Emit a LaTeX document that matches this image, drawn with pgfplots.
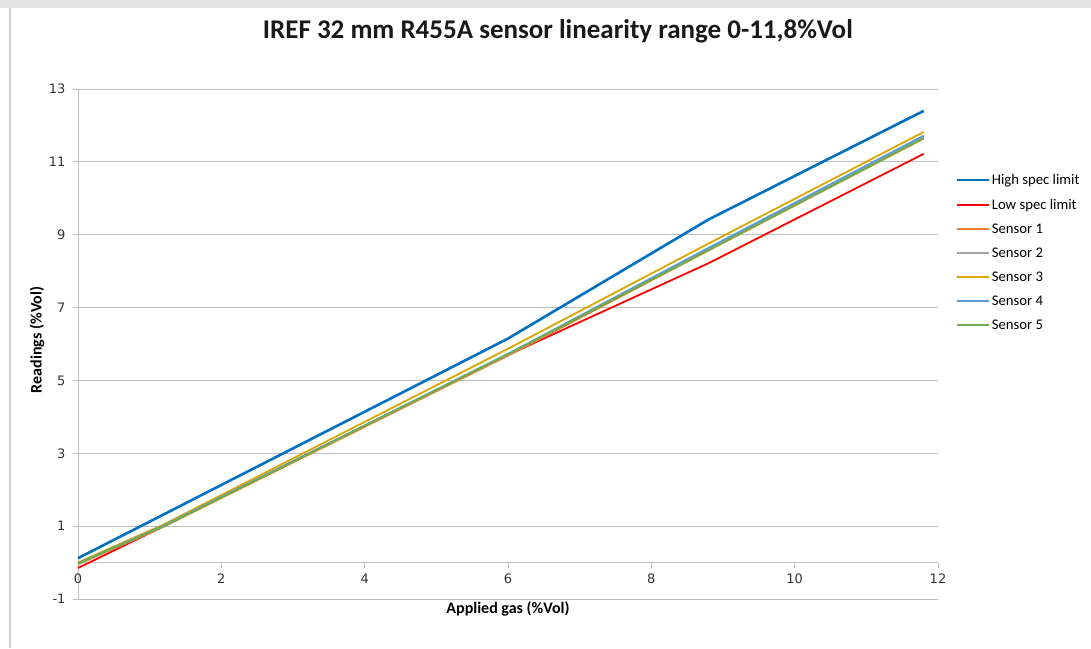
\documentclass[border=0pt]{standalone}
\usepackage{fontspec}
\setmainfont{Carlito}
\newfontfamily\tickfont{DejaVu Sans}
\usepackage{pgfplots}
\pgfplotsset{compat=1.18}
\definecolor{hi}{HTML}{0070C0}
\definecolor{lo}{HTML}{FF0000}
\definecolor{sone}{HTML}{ED7D31}
\definecolor{stwo}{HTML}{A5A5A5}
\definecolor{sthree}{HTML}{DCA500}
\definecolor{sfour}{HTML}{5B9BD5}
\definecolor{sfive}{HTML}{70AD47}
\definecolor{gridc}{HTML}{BFBFBF}
\begin{document}
\begin{tikzpicture}[x=1pt,y=1pt]
\path[fill=white] (-78,-49) rectangle (1013,599);
\fill[gray!22] (-78,591) rectangle (1013,599);
\draw[gray!35, line width=1.5pt] (-68,-49) -- (-68,591);
\begin{axis}[
  at={(0,0)}, anchor=south west,
  scale only axis, width=860pt, height=510pt,
  xmin=0, xmax=12, ymin=-1, ymax=13,
  axis x line=middle, axis y line=left,
  hide obscured x ticks=false,
  axis line style={draw=gridc, line width=0.8pt, -},
  xtick={0,2,...,12}, ytick={-1,1,...,13},
  tick align=outside, major tick length=5pt,
  tick style={draw=gridc, line width=0.8pt},
  ymajorgrids, grid style={draw=gridc, line width=0.8pt},
  /pgf/number format/assume math mode=true,
  ticklabel style={font=\tickfont\fontsize{13}{15}\selectfont, text=black!80},
  xticklabel style={yshift=-3pt},
  yticklabel style={xshift=-4pt},
  title={IREF 32 mm R455A sensor linearity range 0-11,8\%Vol},
  title style={at={(axis description cs:0.558,1.102)}, anchor=center, font=\bfseries\fontsize{27}{31}\selectfont, text=black!90},
  xlabel={Applied gas (\%Vol)},
  xlabel style={at={(axis description cs:0.5,-0.02)}, anchor=center, font=\bfseries\fontsize{16}{19}\selectfont},
  ylabel={Readings (\%Vol)},
  ylabel style={at={(axis description cs:-0.0477,0.508)}, anchor=center, rotate=0, font=\bfseries\fontsize{16}{19}\selectfont},
  legend style={at={(axis description cs:1.0198,0.8372)}, anchor=north west, draw=none, fill=none,
    font=\fontsize{14.7}{16}\selectfont, row sep=9pt, inner sep=0pt,
    /tikz/every even column/.append style={column sep=2pt}},
  legend cell align=left,
  legend image code/.code={\draw[mark repeat=2,mark phase=2,#1] plot coordinates {(0pt,0pt) (16pt,0pt) (32pt,0pt)};},
  clip=false,
]
\addplot[hi, line width=2.6pt] coordinates {(0,0.12) (6,6.15) (8.8,9.42) (11.8,12.4)};
\addlegendentry{High spec limit}
\addplot[lo, line width=1.8pt] coordinates {(0,-0.15) (1.2,1.0) (6,5.7) (8.8,8.22) (11.8,11.22)};
\addlegendentry{Low spec limit}
\addplot[sone, line width=1.8pt] coordinates {(0,-0.05) (1.2,0.99) (6,5.68) (8.8,8.57) (11.8,11.64)};
\addlegendentry{Sensor 1}
\addplot[stwo, line width=1.8pt] coordinates {(0,-0.03) (1.2,1.01) (6,5.71) (8.8,8.62) (11.8,11.69)};
\addlegendentry{Sensor 2}
\addplot[sthree, line width=1.8pt] coordinates {(0,0.0) (1.2,1.05) (6,5.87) (8.8,8.76) (11.8,11.82)};
\addlegendentry{Sensor 3}
\addplot[sfour, line width=1.8pt] coordinates {(0,-0.02) (1.2,1.02) (6,5.73) (8.8,8.64) (11.8,11.72)};
\addlegendentry{Sensor 4}
\addplot[sfive, line width=1.8pt] coordinates {(0,-0.02) (1.2,1.0) (6,5.72) (8.8,8.58) (11.8,11.65)};
\addlegendentry{Sensor 5}
\end{axis}
\end{tikzpicture}
\end{document}
